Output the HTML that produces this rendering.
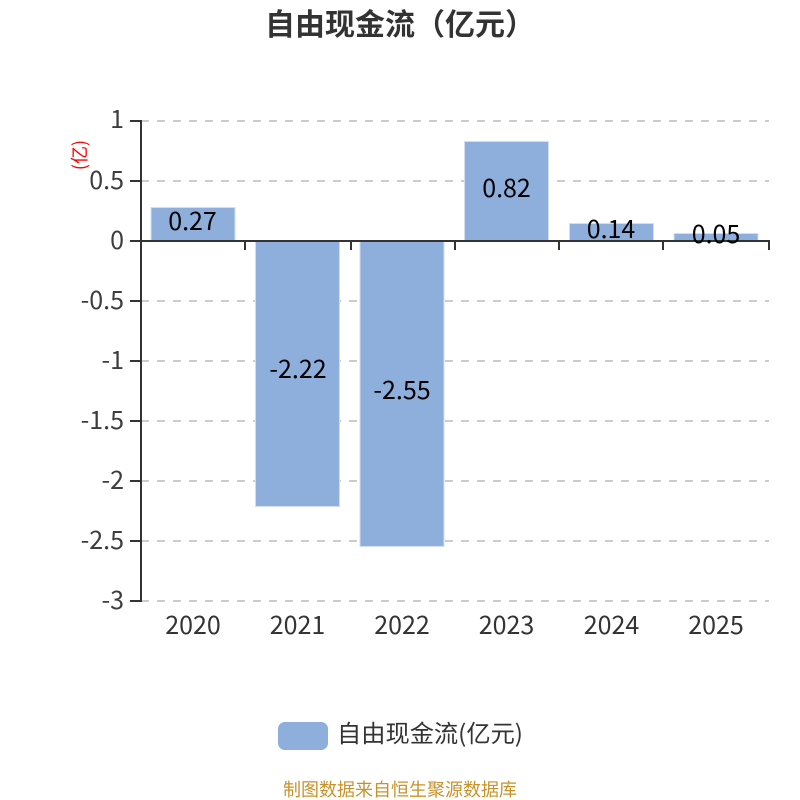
<!DOCTYPE html>
<html>
<head>
<meta charset="utf-8">
<style>
html,body{margin:0;padding:0;background:#fff;width:800px;height:800px;overflow:hidden}
svg{display:block;font-family:"Noto Sans CJK SC","Liberation Sans",sans-serif}
</style>
</head>
<body>
<svg width="800" height="800" viewBox="0 0 800 800" xmlns="http://www.w3.org/2000/svg">
<text x="400" y="35" font-size="30" font-weight="700" fill="#333" text-anchor="middle">自由现金流（亿元）</text>

<g stroke="#ccc" stroke-width="2" stroke-dasharray="8 8">
<line x1="141" x2="769" y1="121" y2="121"/>
<line x1="141" x2="769" y1="181" y2="181"/>
<line x1="141" x2="769" y1="301" y2="301"/>
<line x1="141" x2="769" y1="361" y2="361"/>
<line x1="141" x2="769" y1="421" y2="421"/>
<line x1="141" x2="769" y1="481" y2="481"/>
<line x1="141" x2="769" y1="541" y2="541"/>
<line x1="141" x2="769" y1="601" y2="601"/>
</g>

<g fill="#8eaedb" stroke="#d3dff0" stroke-width="1">
<rect x="151" y="207.5" width="84" height="33"/>
<rect x="255.500" y="240.500" width="84" height="266"/>
<rect x="360" y="240.500" width="84" height="306"/>
<rect x="464.500" y="141.500" width="84" height="99"/>
<rect x="569.500" y="223.500" width="84" height="17"/>
<rect x="674" y="233.500" width="84" height="7"/>
</g>

<g stroke="#333" stroke-width="2" fill="none">
<line x1="141" x2="141" y1="120" y2="602"/>
<line x1="130" x2="141" y1="121" y2="121"/>
<line x1="130" x2="141" y1="181" y2="181"/>
<line x1="130" x2="141" y1="241" y2="241"/>
<line x1="130" x2="141" y1="301" y2="301"/>
<line x1="130" x2="141" y1="361" y2="361"/>
<line x1="130" x2="141" y1="421" y2="421"/>
<line x1="130" x2="141" y1="481" y2="481"/>
<line x1="130" x2="141" y1="541" y2="541"/>
<line x1="130" x2="141" y1="601" y2="601"/>
<line x1="141" x2="770" y1="241" y2="241"/>
<line x1="245" x2="245" y1="240" y2="250"/>
<line x1="351" x2="351" y1="240" y2="250"/>
<line x1="455" x2="455" y1="240" y2="250"/>
<line x1="559" x2="559" y1="240" y2="250"/>
<line x1="663" x2="663" y1="240" y2="250"/>
<line x1="769" x2="769" y1="240" y2="250"/>
</g>

<g font-size="25" fill="#333" text-anchor="end" fill-opacity="0.95">
<text x="124" y="128">1</text>
<text x="124" y="189">0.5</text>
<text x="124" y="249">0</text>
<text x="124" y="309">-0.5</text>
<text x="124" y="369">-1</text>
<text x="124" y="429">-1.5</text>
<text x="124" y="489">-2</text>
<text x="124" y="549">-2.5</text>
<text x="124" y="609">-3</text>
</g>

<g font-size="25" fill="#333" text-anchor="middle">
<text x="193" y="634">2020</text>
<text x="297.500" y="634">2021</text>
<text x="402" y="634">2022</text>
<text x="506.500" y="634">2023</text>
<text x="611.500" y="634">2024</text>
<text x="716" y="634">2025</text>
</g>

<g font-size="25" fill="#000" text-anchor="middle">
<text x="192.500" y="230">0.27</text>
<text x="298" y="378">-2.22</text>
<text x="402" y="399">-2.55</text>
<text x="506.500" y="197">0.82</text>
<text x="611" y="238">0.14</text>
<text x="716" y="243">0.05</text>
</g>

<text transform="translate(86 155) rotate(-90)" font-size="18" fill="#f00" text-anchor="middle">(亿)</text>

<rect x="278" y="722" width="50" height="28" rx="7" ry="7" fill="#8eaedb"/>
<text x="337" y="742" font-size="24" fill="#333" textLength="186" lengthAdjust="spacingAndGlyphs">自由现金流(亿元)</text>

<text x="400" y="796" font-size="18" fill="#c8922a" text-anchor="middle">制图数据来自恒生聚源数据库</text>
</svg>
</body>
</html>
